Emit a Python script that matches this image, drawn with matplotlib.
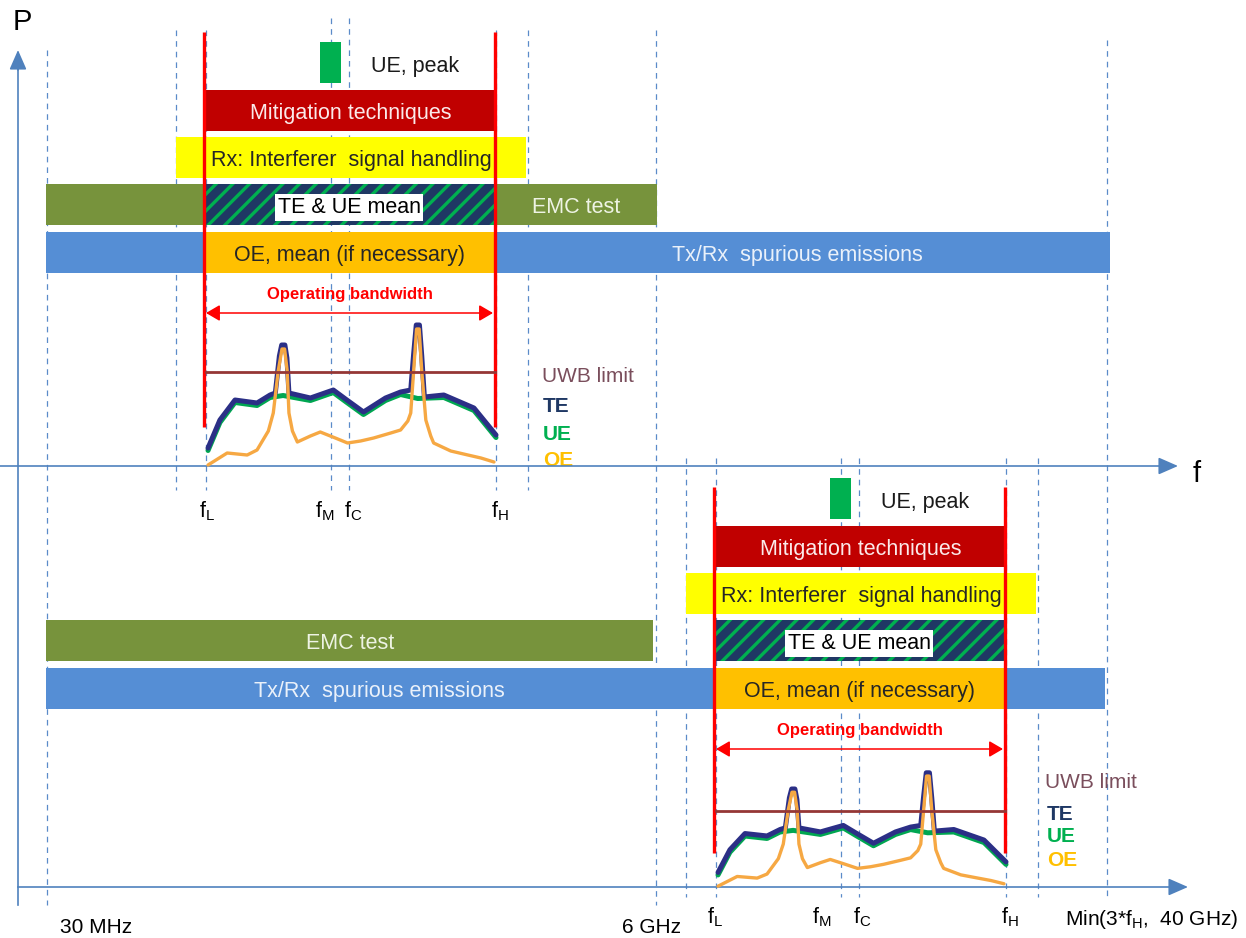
import matplotlib
matplotlib.use("Agg")
import matplotlib.pyplot as plt
from matplotlib.patches import Rectangle, FancyArrowPatch

plt.rcParams['font.family'] = ['Liberation Sans', 'DejaVu Sans']
plt.rcParams['mathtext.fontset'] = 'custom'
plt.rcParams['mathtext.rm'] = 'Liberation Sans'
plt.rcParams['hatch.linewidth'] = 2.4

# ---- texts ----
band_labels = ['Mitigation techniques', 'Rx: Interferer  signal handling',
               'TE & UE mean', 'OE, mean (if necessary)']
peak_label = 'UE, peak'
wide_labels = ['EMC test', 'Tx/Rx  spurious emissions']
curve_labels = ['UWB limit', 'TE', 'UE', 'OE']
tick_labels = [r'$\mathregular{f_L}$', r'$\mathregular{f_M}$',
               r'$\mathregular{f_C}$', r'$\mathregular{f_H}$']
edge_labels = ['30 MHz', '6 GHz', r'Min(3*f$\mathregular{_H}$,  40 GHz)']

# ---- emission shapes across the operating band (fraction of band, level) ----
te_frac = [0.007, 0.048, 0.100, 0.176, 0.221, 0.239, 0.253, 0.261, 0.272, 0.279,
           0.286, 0.360, 0.439, 0.481, 0.543, 0.619, 0.671, 0.706, 0.716, 0.725,
           0.736, 0.744, 0.753, 0.820, 0.924, 1.000]
te_level = [18, 46, 66, 63, 71, 73, 110, 121, 121, 108,
            73, 68, 76, 67, 54, 68, 74, 76, 112, 141,
            141, 110, 69, 71, 58, 31]
ue_frac = [0.007, 0.048, 0.100, 0.176, 0.221, 0.266, 0.360, 0.439, 0.481, 0.543,
           0.619, 0.671, 0.730, 0.820, 0.924, 1.000]
ue_level = [18, 46, 66, 63, 71, 73, 68, 76, 67, 54, 68, 74, 70, 71, 58, 31]
oe_frac = [0.007, 0.073, 0.142, 0.176, 0.215, 0.232, 0.249, 0.262, 0.271, 0.280,
           0.286, 0.298, 0.315, 0.360, 0.394, 0.446, 0.488, 0.533, 0.578, 0.637,
           0.671, 0.696, 0.706, 0.716, 0.726, 0.735, 0.744, 0.758, 0.775, 0.785,
           0.844, 0.903, 0.948, 0.993]
oe_level = [1, 13, 11, 16, 35, 53, 95, 117, 117, 95,
            53, 35, 24, 30, 34, 28, 23, 25, 28, 33,
            36, 45, 53, 95, 137, 137, 95, 46, 30, 23,
            15, 11, 8, 4]
uwb_level = 94

# colours
C_AX = '#4F81BD'
C_DASH = '#5B8BC9'
C_RED = '#FF0000'
C_MIT = '#C00000'
C_RX = '#FFFF00'
C_EMC = '#77933C'
C_TX = '#558ED5'
C_OE = '#FFC000'
C_PEAK = '#00B050'
C_NAVY = '#1F3864'
C_TE = '#2B2F86'
C_UE = '#00A651'
C_OEC = '#F6A843'
C_UWB = '#953735'

fig = plt.figure(figsize=(12.46, 9.38), dpi=100)
ax = fig.add_axes([0, 0, 1, 1])
ax.set_xlim(0, 1246)
ax.set_ylim(938, 0)
ax.axis('off')


def bar(x0, x1, y0, color, h=41, z=2, **kw):
    ax.add_patch(Rectangle((x0, y0), x1 - x0, h, facecolor=color,
                           edgecolor='none', zorder=z, **kw))


def dashed(x, y0, y1):
    ax.plot([x, x], [y0, y1], color=C_DASH, lw=0.9, dashes=(4.5, 4), zorder=0.5)


def arrow(p0, p1, style, color, lw, ms):
    ax.add_patch(FancyArrowPatch(p0, p1, arrowstyle=style, color=color, lw=lw,
                                 mutation_scale=ms, shrinkA=0, shrinkB=0, zorder=6))


# ---- axes ----
ax.plot([18, 18], [905, 60], color=C_AX, lw=1.2, zorder=5)
arrow((18, 70), (18, 50), '-|>,head_length=0.8,head_width=0.35', C_AX, 1.2, 15)
ax.text(22, 22, 'P', fontsize=21, ha='center', va='center')
ax.plot([0, 1168], [466, 466], color=C_AX, lw=1.2, zorder=5)
arrow((1160, 466), (1178, 466), '-|>,head_length=0.8,head_width=0.35', C_AX, 1.2, 15)
ax.text(1197, 474, 'f', fontsize=21, ha='center', va='center')
ax.plot([18, 1177], [887, 887], color=C_AX, lw=1.2, zorder=5)
arrow((1170, 887), (1188, 887), '-|>,head_length=0.8,head_width=0.35', C_AX, 1.2, 15)

# long dashed markers shared by both panels
dashed(47, 50, 905)
dashed(656, 30, 905)
dashed(1107, 40, 897)

# ---- panels ----
panels = [
    dict(dx=0, dy=0, axis=466, k=1.0, dash_top=(30, 18), dash_bot=490,
         red=(32, 427), emc=(46, 657), tx=(46, 1110), emc_tx=576, tx_tx=797,
         ticks=[207, 325, 353, 500], tick_y=517,
         lab=[(542, 375), (543, 404), (543, 432), (543, 458)]),
    dict(dx=510, dy=436, axis=887, k=0.81, dash_top=(458, 458), dash_bot=897,
         red=(487, 853), emc=(46, 653), tx=(46, 1105), emc_tx=350, tx_tx=379,
         ticks=[715, 822, 862, 1010], tick_y=923,
         lab=[(1045, 781), (1047, 812), (1047, 835), (1047, 858)]),
]

for p in panels:
    dx, dy = p['dx'], p['dy']
    lo, hi = 205 + dx, 495 + dx
    fl, fh = 206 + dx, 496 + dx

    # dashed frequency markers
    for x in (176, 206, 496, 528):
        dashed(x + dx, p['dash_top'][0], p['dash_bot'])
    for x in (331, 349):
        dashed(x + dx, p['dash_top'][1], p['dash_bot'])

    # bars
    bar(320 + dx, 341 + dx, 42 + dy, C_PEAK)
    ax.text(415 + dx, 64 + dy, peak_label, fontsize=15.5, color='#1a1a1a',
            ha='center', va='center_baseline', zorder=7)
    bar(lo, hi + 2, 90 + dy, C_MIT)
    bar(176 + dx, 526 + dx, 137 + dy, C_RX)
    bar(p['emc'][0], p['emc'][1], 184 + dy, C_EMC)
    ax.add_patch(Rectangle((lo, 184 + dy), hi - lo, 41, facecolor=C_NAVY,
                           edgecolor=C_PEAK, lw=0, hatch='//', zorder=3))
    bar(p['tx'][0], p['tx'][1], 232 + dy, C_TX)
    bar(lo, hi, 232 + dy, C_OE, z=3)

    ax.text(351 + dx, 111 + dy, band_labels[0], fontsize=15.5, color='#FBEAEA',
            ha='center', va='center_baseline', zorder=7)
    ax.text(351 + dx, 158 + dy, band_labels[1], fontsize=15.5, color='#262626',
            ha='center', va='center_baseline', zorder=7)
    ax.text(349 + dx, 205 + dy, band_labels[2], fontsize=15.5, color='black',
            ha='center', va='center_baseline', zorder=7,
            bbox=dict(boxstyle='square,pad=0.12', facecolor='white', edgecolor='none'))
    ax.text(349 + dx, 253 + dy, band_labels[3], fontsize=15.5, color='#262626',
            ha='center', va='center_baseline', zorder=7)
    ax.text(p['emc_tx'], 205 + dy, wide_labels[0], fontsize=15.5, color='#EEF3E4',
            ha='center', va='center_baseline', zorder=7)
    ax.text(p['tx_tx'], 253 + dy, wide_labels[1], fontsize=15.5, color='#EAF1FA',
            ha='center', va='center_baseline', zorder=7)

    # operating bandwidth
    ax.text(350 + dx, 295 + dy, 'Operating bandwidth', fontsize=12, color=C_RED,
            fontweight='bold', ha='center', va='center', zorder=7)
    arrow((fl, 313 + dy), (hi - 2, 313 + dy), '<|-|>,head_length=0.6,head_width=0.35',
          C_RED, 1.1, 14)

    # red band edges
    for x in (204 + dx, 495 + dx):
        ax.plot([x, x], list(p['red']), color=C_RED, lw=2.4, zorder=6,
                solid_capstyle='butt')

    # emission curves
    def fx(fr):
        return [fl + f * (fh - fl) for f in fr]

    def fy(lv, off=0):
        return [p['axis'] - v * p['k'] + off for v in lv]

    ax.plot(fx(ue_frac), fy(ue_level, 2.5), color=C_UE, lw=3.6, zorder=8,
            solid_joinstyle='round', solid_capstyle='round')
    ax.plot(fx(te_frac), fy(te_level), color=C_TE, lw=3.6, zorder=9,
            solid_joinstyle='round', solid_capstyle='round')
    ax.plot(fx(oe_frac), fy(oe_level), color=C_OEC, lw=2.4, zorder=10,
            solid_joinstyle='round', solid_capstyle='round')
    uy = p['axis'] - uwb_level * p['k']
    ax.plot([fl, fh - 1], [uy, uy], color=C_UWB, lw=2.0, zorder=11)

    # curve legend
    (ux, uyl), (tx, ty), (gx, gy), (ox, oy) = p['lab']
    ax.text(ux, uyl, curve_labels[0], fontsize=15, color='#7A4E5C',
            ha='left', va='center_baseline')
    ax.text(tx, ty, curve_labels[1], fontsize=15, color=C_NAVY, fontweight='bold',
            ha='left', va='center_baseline')
    ax.text(gx, gy, curve_labels[2], fontsize=15, color=C_PEAK, fontweight='bold',
            ha='left', va='center_baseline')
    ax.text(ox, oy, curve_labels[3], fontsize=15, color=C_OE, fontweight='bold',
            ha='left', va='center_baseline')

    # frequency tick labels
    for x, t in zip(p['ticks'], tick_labels):
        ax.text(x, p['tick_y'], t, fontsize=15.5, ha='center', va='baseline')

ax.text(96, 933, edge_labels[0], fontsize=15, ha='center', va='baseline')
ax.text(651, 933, edge_labels[1], fontsize=15, ha='center', va='baseline')
ax.text(1152, 925, edge_labels[2], fontsize=15, ha='center', va='baseline')

fig.savefig('out.png', dpi=100)
